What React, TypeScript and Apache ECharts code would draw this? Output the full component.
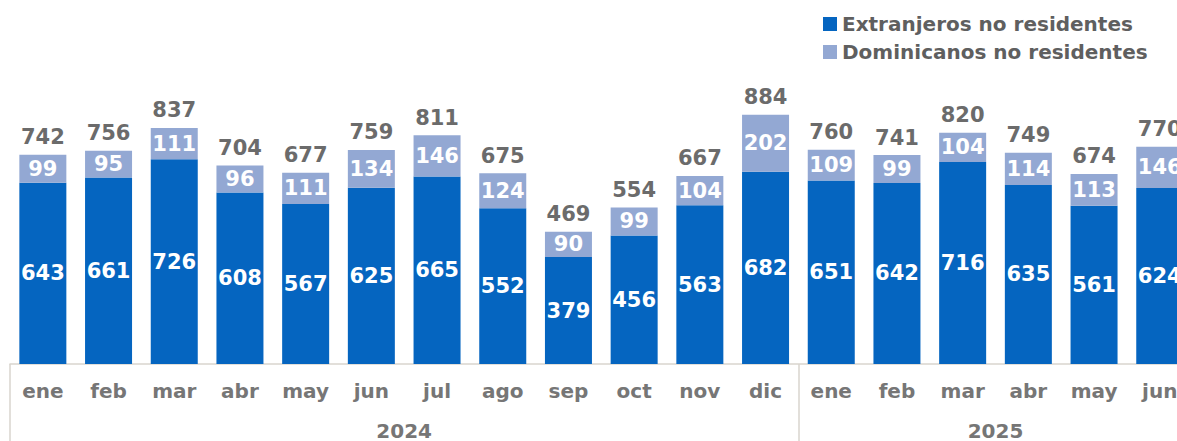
import React, { useEffect, useRef } from "react";
import * as echarts from "echarts";

const months = ["ene", "feb", "mar", "abr", "may", "jun", "jul", "ago", "sep", "oct", "nov", "dic", "ene", "feb", "mar", "abr", "may", "jun"];
const extranjeros = [643, 661, 726, 608, 567, 625, 665, 552, 379, 456, 563, 682, 651, 642, 716, 635, 561, 624];
const dominicanos = [99, 95, 111, 96, 111, 134, 146, 124, 90, 99, 104, 202, 109, 99, 104, 114, 113, 146];
const totals = [742, 756, 837, 704, 677, 759, 811, 675, 469, 554, 667, 884, 760, 741, 820, 749, 674, 770];
const years = [
  { label: "2024", center: 6 },
  { label: "2025", center: 15 },
];
const groupStarts = [0, 12];

const FONT = "DejaVu Sans";
const DARK = "#0565c0";
const LIGHT = "#93a8d3";

export default function App() {
  const ref = useRef<HTMLDivElement>(null);
  useEffect(() => {
    document.body.style.margin = "0";
    document.body.style.overflow = "hidden";
    const chart = echarts.init(ref.current!, null, { renderer: "svg" });
    const catW = 65.7;
    chart.setOption({
      animation: false,
      textStyle: { fontFamily: FONT },
      legend: {
        orient: "vertical",
        left: 818,
        top: 9,
        itemWidth: 14,
        itemHeight: 14,
        itemGap: 8,
        icon: "rect",
        data: ["Extranjeros no residentes", "Dominicanos no residentes"],
        textStyle: { fontSize: 20, color: "#5f5f5f", fontFamily: FONT, fontWeight: "bold" },
      },
      grid: { left: 10, top: 82, width: catW * 18, height: 283, containLabel: false },
      xAxis: [
        {
          type: "category",
          data: months,
          axisLine: { show: true, lineStyle: { color: "#d9d5ce", width: 1.5 } },
          axisTick: {
            show: true,
            length: 80,
            interval: (i: number) => groupStarts.includes(i),
            lineStyle: { color: "#d9d5ce", width: 1.5 },
          },
          axisLabel: { color: "#767676", fontSize: 20, margin: 17, fontFamily: FONT, fontWeight: "bold" },
        },
        {
          type: "value",
          position: "bottom",
          min: 0,
          max: 18,
          interval: 1,
          offset: 49,
          axisLine: { show: false },
          axisTick: { show: false },
          splitLine: { show: false },
          axisLabel: {
            color: "#767676",
            fontSize: 20,
            margin: 8,
            fontFamily: FONT,
            fontWeight: "bold",
            formatter: (v: number) => {
              const y = years.find((yy) => yy.center === v);
              return y ? y.label : "";
            },
          },
        },
      ],
      yAxis: { type: "value", min: 0, max: 1000, show: false },
      series: [
        {
          name: "Extranjeros no residentes",
          type: "bar",
          stack: "t",
          barWidth: 47,
          data: extranjeros,
          itemStyle: { color: DARK },
          label: { show: true, position: "inside", color: "#fff", fontSize: 21, fontFamily: FONT, fontWeight: "bold" },
        },
        {
          name: "Dominicanos no residentes",
          type: "bar",
          stack: "t",
          barWidth: 47,
          data: dominicanos,
          itemStyle: { color: LIGHT },
          label: { show: true, position: "inside", color: "#fff", fontSize: 21, fontFamily: FONT, fontWeight: "bold" },
        },
        {
          name: "Total",
          type: "bar",
          stack: "t",
          barWidth: 47,
          data: totals.map(() => 0),
          itemStyle: { color: "transparent" },
          label: {
            show: true,
            position: "top",
            distance: 7,
            color: "#6b6b6b",
            fontSize: 21,
            fontFamily: FONT,
            fontWeight: "bold",
            formatter: (p: any) => String(totals[p.dataIndex]),
          },
        },
      ],
    });
    return () => chart.dispose();
  }, []);
  return <div ref={ref} style={{ position: "absolute", left: 0, top: 0, width: 1200, height: 441 }} />;
}
